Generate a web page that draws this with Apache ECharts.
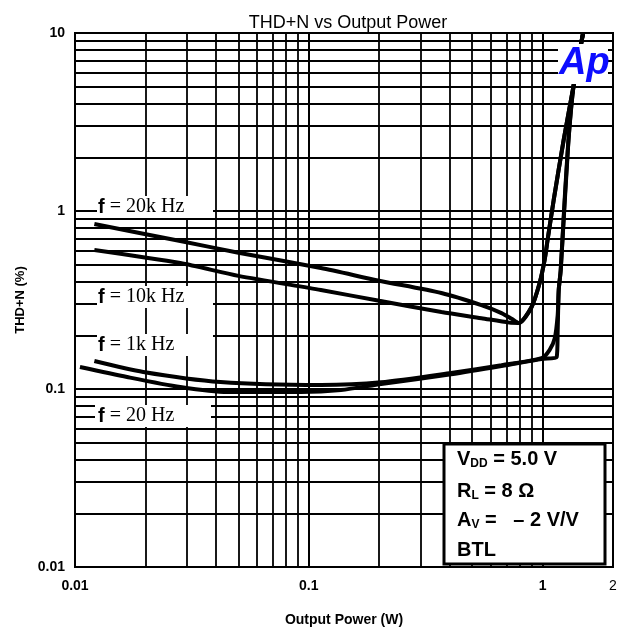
<!DOCTYPE html>
<html>
<head>
<meta charset="utf-8">
<script src="https://cdn.jsdelivr.net/npm/echarts@6/dist/echarts.min.js"></script>
<style>
  html, body { margin: 0; padding: 0; background: #fff; }
  #chart { width: 628px; height: 632px; }
</style>
</head>
<body>
<div id="chart"></div>
<script>
// 曲线数据
var p20k   = [0.0121, 0.0282, 0.05, 0.1126, 0.2, 0.369, 0.547, 0.667, 0.74, 0.789, 0.897, 0.971, 1.02, 1.05, 1.115, 1.23, 1.358, 1.49];
var thd20k = [0.845, 0.678, 0.583, 0.478, 0.406, 0.346, 0.296, 0.267, 0.247, 0.235, 0.289, 0.394, 0.531, 0.687, 1.15, 2.5, 5.1, 10];

var p10k   = [0.0121, 0.0282, 0.05, 0.1126, 0.2, 0.369, 0.547, 0.72, 0.789, 0.897, 0.971, 1.02, 1.05, 1.115, 1.23, 1.358, 1.49];
var thd10k = [0.604, 0.510, 0.432, 0.360, 0.313, 0.271, 0.250, 0.236, 0.235, 0.289, 0.394, 0.531, 0.687, 1.15, 2.5, 5.1, 10];

var p1k   = [0.0121, 0.0196, 0.0419, 0.1126, 0.2037, 0.406, 0.667, 0.99, 1.072, 1.127, 1.16, 1.172, 1.195, 1.242, 1.29, 1.358, 1.49];
var thd1k = [0.1436, 0.1246, 0.1094, 0.1053, 0.109, 0.123, 0.136, 0.149, 0.166, 0.193, 0.26, 0.36, 0.466, 1.15, 2.5, 5.1, 10];

var p20   = [0.0105, 0.0167, 0.0282, 0.0449, 0.0924, 0.1372, 0.2037, 0.406, 0.667, 0.99, 1.148, 1.16, 1.172, 1.195, 1.29, 1.358, 1.49];
var thd20 = [0.133, 0.1168, 0.1026, 0.0962, 0.0962, 0.0987, 0.1067, 0.121, 0.1346, 0.1475, 0.151, 0.214, 0.36, 0.466, 2.5, 5.1, 10];

// 网格细线
var xMinor = [0.02, 0.03, 0.04, 0.05, 0.06, 0.07, 0.08, 0.09, 0.2, 0.3, 0.4, 0.5, 0.6, 0.7, 0.8, 0.9];
var yMinor = [0.02, 0.03, 0.04, 0.05, 0.06, 0.07, 0.08, 0.09, 0.2, 0.3, 0.4, 0.5, 0.6, 0.7, 0.8, 0.9, 2, 3, 4, 5, 6, 7, 8, 9];

var curveLabels = ['20k Hz', '10k Hz', '1k Hz', '20 Hz'];

function pairs(xs, ys) {
  return xs.map(function (x, i) { return [x, ys[i]]; });
}

var myChart = echarts.init(document.getElementById('chart'));

var axisLabelStyle = {
  fontFamily: 'Liberation Sans, Arial, sans-serif',
  fontWeight: 'bold',
  fontSize: 14,
  color: '#000'
};

function curve(name, xs, ys) {
  return {
    name: name,
    type: 'line',
    data: pairs(xs, ys),
    showSymbol: false,
    smooth: 0.25,
    z: 3,
    lineStyle: { color: '#000', width: 4 }
  };
}

var labelRich = {
  b: { fontFamily: 'Liberation Sans', fontWeight: 'bold', fontSize: 20, fill: '#000' },
  s: { fontFamily: 'Liberation Serif', fontSize: 20, fill: '#000' }
};

function curveLabel(txt, boxX, cy) {
  return {
    type: 'group',
    z: 10,
    children: [
      { type: 'rect', shape: { x: boxX, y: cy - 11, width: 116, height: 22 }, style: { fill: '#fff' }, z: 10 },
      { type: 'text', x: 98, y: cy, z: 11,
        style: { text: '{b|f}{s| = ' + txt + '}', rich: labelRich, verticalAlign: 'middle', align: 'left' } }
    ]
  };
}

var boxFont = { fontFamily: 'Liberation Sans', fontWeight: 'bold', fontSize: 20, fill: '#000', lineHeight: 21 };
var boxRich = {
  m: boxFont,
  sub: { fontFamily: 'Liberation Sans', fontWeight: 'bold', fontSize: 12, fill: '#000', lineHeight: 12, verticalAlign: 'bottom' }
};

function boxLine(txt, cy) {
  return { type: 'text', x: 457, y: cy, z: 21,
    style: { text: txt, rich: boxRich, verticalAlign: 'middle', align: 'left' } };
}

var option = {
  animation: false,
  backgroundColor: '#fff',
  title: {
    text: 'THD+N vs Output Power',
    left: 343,
    top: 9,
    textAlign: 'center',
    textStyle: { fontFamily: 'Liberation Sans, Arial, sans-serif', fontWeight: 'normal', fontSize: 18, color: '#000' }
  },
  grid: {
    left: 75, right: 15, top: 33, bottom: 65,
    show: true, borderColor: '#000', borderWidth: 2
  },
  xAxis: {
    type: 'log',
    logBase: 10,
    min: 0.01,
    max: 2,
    name: 'Output Power (W)',
    nameLocation: 'middle',
    nameGap: 46,
    nameTextStyle: axisLabelStyle,
    axisLine: { show: true, lineStyle: { color: '#000', width: 2 } },
    axisTick: { show: false },
    splitLine: { show: true, lineStyle: { color: '#000', width: 2 } },
    axisLabel: Object.assign({}, axisLabelStyle, {
      margin: 12,
      formatter: function (v) {
        if (v > 1.5) return '{n|2}';
        return String(Number(v.toPrecision(2)));
      },
      rich: { n: { fontFamily: 'Liberation Sans', fontWeight: 'normal', fontSize: 14, color: '#000' } }
    })
  },
  yAxis: {
    type: 'log',
    logBase: 10,
    min: 0.01,
    max: 10,
    name: 'THD+N (%)',
    nameLocation: 'middle',
    nameGap: 44,
    nameTextStyle: Object.assign({}, axisLabelStyle, { fontSize: 13 }),
    axisLine: { show: true, lineStyle: { color: '#000', width: 2 } },
    axisTick: { show: false },
    splitLine: { show: true, lineStyle: { color: '#000', width: 2 } },
    axisLabel: Object.assign({}, axisLabelStyle, {
      margin: 10,
      formatter: function (v) { return String(Number(v.toPrecision(2))); }
    })
  },
  series: [
    {
      name: 'grid',
      type: 'line',
      data: [],
      silent: true,
      z: 1,
      markLine: {
        silent: true,
        symbol: 'none',
        animation: false,
        label: { show: false },
        lineStyle: { color: '#000', width: 1.8, type: 'solid' },
        data: xMinor.map(function (v) { return { xAxis: v }; })
          .concat(yMinor.map(function (v) { return { yAxis: v }; }))
      }
    },
    curve('f = 20k Hz', p20k, thd20k),
    curve('f = 10k Hz', p10k, thd10k),
    curve('f = 1k Hz', p1k, thd1k),
    curve('f = 20 Hz', p20, thd20)
  ],
  graphic: [
    curveLabel(curveLabels[0], 97, 207),
    curveLabel(curveLabels[1], 97, 297),
    curveLabel(curveLabels[2], 97, 345),
    curveLabel(curveLabels[3], 95, 416),
    // Ap 标志
    { type: 'rect', z: 10, shape: { x: 558, y: 44, width: 50, height: 40 }, style: { fill: '#fff' } },
    { type: 'text', z: 11, x: 559, y: 64,
      style: { text: 'Ap', fontFamily: 'Liberation Sans', fontWeight: 'bold', fontStyle: 'italic', fontSize: 38,
               fill: '#0d0dff', verticalAlign: 'middle', align: 'left' } },
    // 条件说明框
    { type: 'rect', z: 20, shape: { x: 444, y: 444, width: 161, height: 120 },
      style: { fill: '#fff', stroke: '#000', lineWidth: 3 } },
    boxLine('{m|V}{sub|DD}{m| = 5.0 V}', 459.5),
    boxLine('{m|R}{sub|L}{m| = 8 Ω}', 491.5),
    boxLine('{m|A}{sub|V}{m| =   – 2 V/V}', 520.5),
    boxLine('{m|BTL}', 550)
  ]
};

myChart.setOption(option);
</script>
</body>
</html>
